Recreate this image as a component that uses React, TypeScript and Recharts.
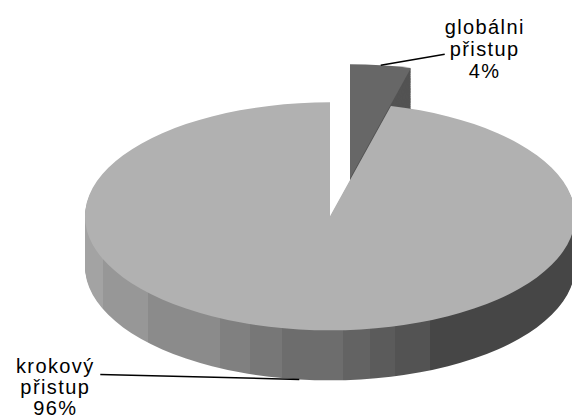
import { PieChart, Pie, Cell } from 'recharts';

const CATEGORIES = ['globálni přistup', 'krokový přistup'];
const SHARES = [4, 96];

const TOP_COLORS = ['#676767', '#b1b1b1'];
const SIDE_COLORS = ['#535353', 'url(#pieSide)'];

// geometry in screen px; the svg is squashed vertically to fake the tilt
const W = 572;
const H = 419;
const RX = 245;
const RY = 114;
const K = RY / RX;
const CX = 325;
const CY = 214;
const DEPTH = 50;
const EXPLODE = { dx: 20, dy: -38 };

const data = CATEGORIES.map((name, i) => ({ name, value: SHARES[i] }));

const LAYERS = 45;
const layerOffsets = Array.from({ length: LAYERS }, (_, i) => (DEPTH * (LAYERS - i)) / LAYERS);

// label placement relative to the slice's outer edge point (screen px)
const LABEL_LAYOUT = [
  { from: [0, 0], to: [64, -11], textX: 104, baselines: [-31, -9, 13] },
  { from: [0, DEPTH], to: [-199, 45], textX: -244, baselines: [44, 65, 86] },
];

const SIDE_BANDS = [
  { at: 0.047, color: '#a3a3a3' },
  { at: 0.139, color: '#979797' },
  { at: 0.286, color: '#8b8b8b' },
  { at: 0.347, color: '#808080' },
  { at: 0.412, color: '#777777' },
  { at: 0.537, color: '#6d6d6d' },
  { at: 0.592, color: '#636363' },
  { at: 0.643, color: '#5b5b5b' },
  { at: 0.714, color: '#535353' },
  { at: 1, color: '#464646' },
];

function makeLabel(onlyIndex: number) {
  return (props: any) => {
    const { cx, cy, midAngle, outerRadius, index, percent } = props;
    if (index !== onlyIndex) return null;
    const lay = LABEL_LAYOUT[index];
    const rad = (midAngle * Math.PI) / 180;
    const x = cx + outerRadius * Math.cos(rad);
    const y = cy - outerRadius * Math.sin(rad);
    const lines = [...CATEGORIES[index].split(' '), `${Math.round(percent * 100)}%`];
    return (
      <g transform={`translate(${x},${y}) scale(1,${1 / K})`}>
        <line
          x1={lay.from[0]}
          y1={lay.from[1]}
          x2={lay.to[0]}
          y2={lay.to[1]}
          stroke="#000"
          strokeWidth={1.5}
        />
        {lines.map((t, i) => (
          <text
            key={i}
            x={lay.textX}
            y={lay.baselines[i]}
            textAnchor="middle"
            fill="#000"
            fontSize={20}
            letterSpacing={1.4}
            fontFamily="'Liberation Sans', Arial, sans-serif"
          >
            {t}
          </text>
        ))}
      </g>
    );
  };
}

function slicePie(key: string, cx: number, cy: number, show: number, colors: string[], label?: any) {
  return (
    <Pie
      key={key}
      data={data}
      dataKey="value"
      nameKey="name"
      cx={cx}
      cy={cy / K}
      outerRadius={RX}
      startAngle={90}
      endAngle={-270}
      stroke="none"
      isAnimationActive={false}
      label={label ?? false}
      labelLine={false}
    >
      {data.map((_, i) => (
        <Cell key={i} fill={i === show ? colors[i] : 'none'} stroke="none" />
      ))}
    </Pie>
  );
}

export default function App() {
  const sx = CX + EXPLODE.dx;
  const sy = CY + EXPLODE.dy;
  return (
    <div style={{ position: 'absolute', left: 0, top: 0, width: W, height: H, overflow: 'hidden', background: '#fff' }}>
      <svg width={0} height={0} style={{ position: 'absolute' }}>
        <defs>
          <linearGradient id="pieSide" gradientUnits="userSpaceOnUse" x1={CX - RX} y1={0} x2={CX + RX} y2={0}>
            {SIDE_BANDS.map((b, i) => [
              <stop key={`a${i}`} offset={i === 0 ? 0 : SIDE_BANDS[i - 1].at} stopColor={b.color} />,
              <stop key={`b${i}`} offset={b.at} stopColor={b.color} />,
            ])}
          </linearGradient>
        </defs>
      </svg>
      <div style={{ transform: `scaleY(${K})`, transformOrigin: '0 0' }}>
        <PieChart width={W} height={Math.ceil(H / K)}>
          {layerOffsets.map((d, i) => slicePie(`ss${i}`, sx, sy + d, 0, SIDE_COLORS))}
          {slicePie('st', sx, sy, 0, TOP_COLORS, makeLabel(0))}
          {layerOffsets.map((d, i) => slicePie(`ms${i}`, CX, CY + d, 1, SIDE_COLORS))}
          {slicePie('mt', CX, CY, 1, TOP_COLORS, makeLabel(1))}
        </PieChart>
      </div>
    </div>
  );
}
